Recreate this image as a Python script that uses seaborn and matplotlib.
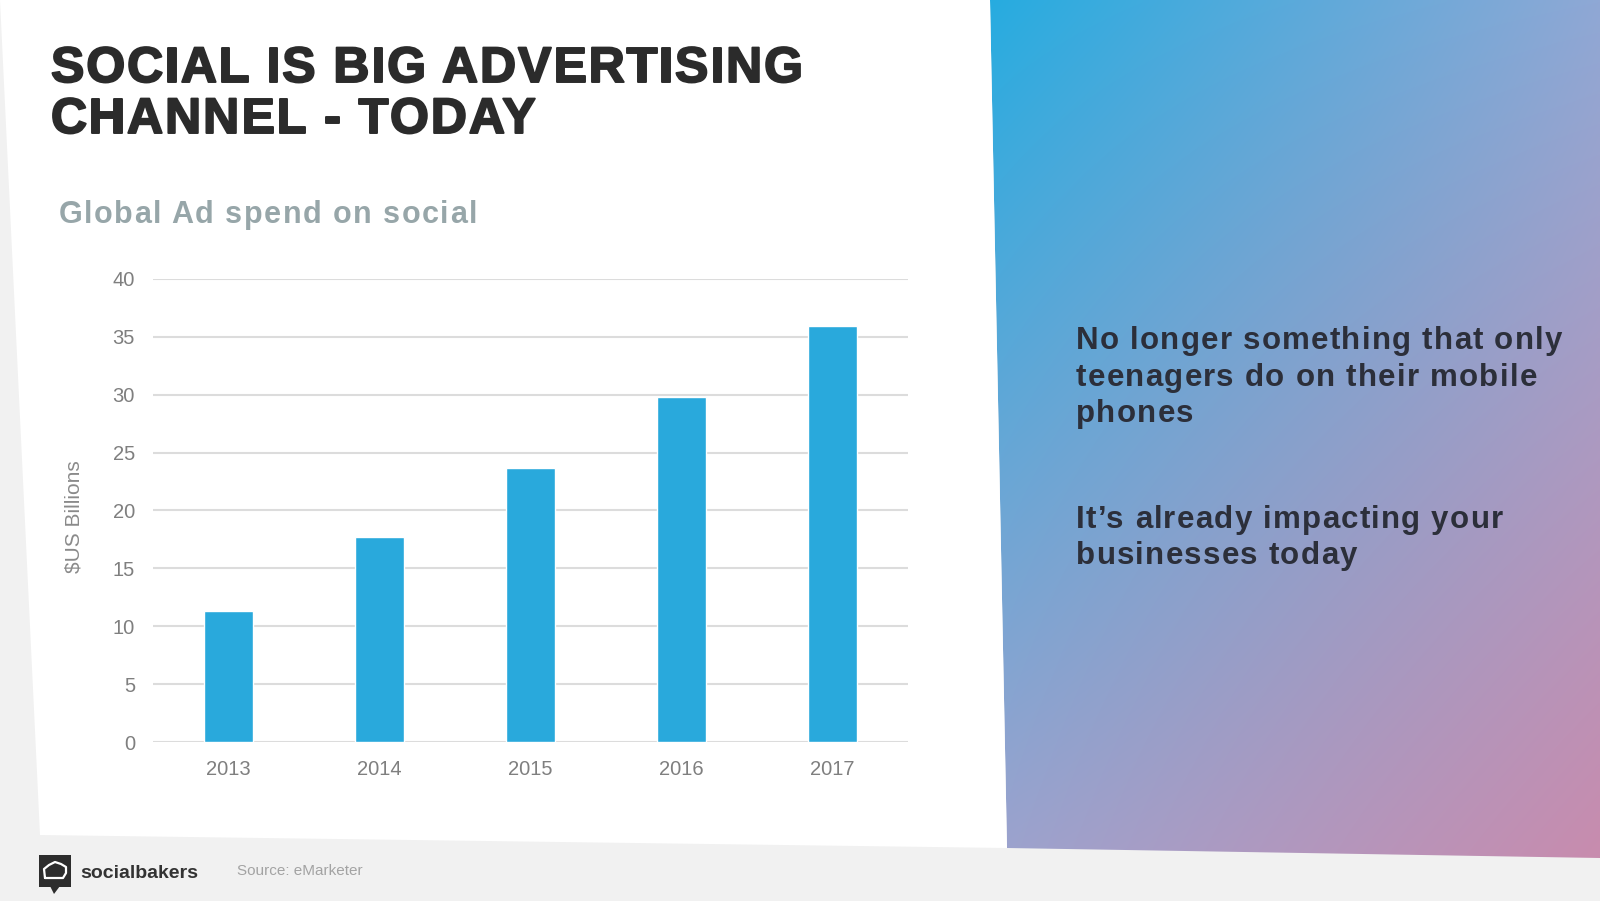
import numpy as np
import matplotlib
matplotlib.use("Agg")
import matplotlib.pyplot as plt
import matplotlib.patheffects as pe
from matplotlib.patches import Polygon, Rectangle
import seaborn as sns
import pandas as pd

# chart data (eMarketer, global social ad spend, $US billions)
YEARS = ["2013", "2014", "2015", "2016", "2017"]
SPEND = [11.3, 17.7, 23.7, 29.8, 35.9]
Y_TICKS = [0, 5, 10, 15, 20, 25, 30, 35, 40]

TITLE_LINES = ["SOCIAL IS BIG ADVERTISING", "CHANNEL - TODAY"]
SUBTITLE = "Global Ad spend on social"
YLABEL = "$US Billions"
SIDE_BLOCK_1 = ["No longer something that only", "teenagers do on their mobile", "phones"]
SIDE_BLOCK_2 = ["It\u2019s already impacting your", "businesses today"]

BAR_COLOR = "#29a9dc"
W, H = 1600, 901

sns.set_theme(style="white")
plt.rcParams['font.family'] = ['Liberation Sans', 'DejaVu Sans']

fig = plt.figure(figsize=(W / 100, H / 100), dpi=100)
fig.patch.set_facecolor("#f1f1f1")

# background canvas in pixel coordinates (origin top-left)
bg = fig.add_axes([0, 0, 1, 1], zorder=0)
bg.set_xlim(0, W)
bg.set_ylim(H, 0)
bg.axis("off")
renderer = fig.canvas.get_renderer()


def text_width(s, **kw):
    t = bg.text(0, 0, s, **kw)
    w = t.get_window_extent(renderer).width
    t.remove()
    return w


def tracking_for(s, target, **kw):
    # extra px between letters so the line reaches the target width
    return (target - text_width(s, **kw)) / (len(s) - 1)


def tracked_text(x, y, s, track, **kw):
    # letter-spaced text, one glyph at a time
    for i, ch in enumerate(s):
        if ch == " ":
            continue
        pos = text_width(s[:i + 1], **kw) - text_width(ch, **kw)
        bg.text(x + pos + i * track, y, ch, va="baseline", ha="left", **kw)


# slightly skewed white slide
bg.add_patch(Polygon([(0, 0), (990, 0), (1007, 848), (40, 835)],
                     closed=True, facecolor="white", edgecolor="none"))

# gradient side panel
grad_poly = Polygon([(990, 0), (1600, 0), (1600, 858), (1007, 848)],
                    closed=True, facecolor="none", edgecolor="none")
bg.add_patch(grad_poly)
corners = {
    "tl": np.array([0x27, 0xac, 0xe0]) / 255,
    "tr": np.array([0x8f, 0xa8, 0xd5]) / 255,
    "bl": np.array([0x9c, 0xa3, 0xce]) / 255,
    "br": np.array([0xc8, 0x8c, 0xae]) / 255,
}
u = np.linspace(0, 1, 200)[None, :, None]
v = np.linspace(0, 1, 200)[:, None, None]
img = ((1 - u) * (1 - v) * corners["tl"] + u * (1 - v) * corners["tr"]
       + (1 - u) * v * corners["bl"] + u * v * corners["br"])
im = bg.imshow(img, extent=(990, 1600, 858, 0), aspect="auto", interpolation="bilinear")
im.set_clip_path(grad_poly)
bg.set_xlim(0, W)
bg.set_ylim(H, 0)

# titles
title_kw = dict(fontsize=36, fontweight="bold", color="#2b2b2b",
                path_effects=[pe.withStroke(linewidth=1.4, foreground="#2b2b2b")])
tr = tracking_for(TITLE_LINES[0], 752, **title_kw)
for txt, base in zip(TITLE_LINES, [82, 133]):
    tracked_text(51, base, txt, tr, **title_kw)

sub_kw = dict(fontsize=22, fontweight="bold", color="#97a6a9")
tracked_text(59, 223, SUBTITLE, tracking_for(SUBTITLE, 418, **sub_kw), **sub_kw)

# side text
side_kw = dict(fontsize=22.5, fontweight="bold", color="#2c2f3a")
tr = tracking_for(SIDE_BLOCK_1[0], 486, **side_kw)
for txt, base in zip(SIDE_BLOCK_1, [349, 386, 422]):
    tracked_text(1076, base, txt, tr, **side_kw)
for txt, base in zip(SIDE_BLOCK_2, [528, 564]):
    tracked_text(1076, base, txt, tr, **side_kw)

# footer: logo + source
bg.add_patch(Rectangle((39, 855), 32, 32, facecolor="#2d2d2d", edgecolor="none"))
bg.add_patch(Polygon([(50, 886), (60, 886), (54, 894)], closed=True,
                     facecolor="#2d2d2d", edgecolor="none"))
hat = np.array([(45, 878), (44, 869), (49, 865), (55, 862), (61, 864),
                (66, 867), (66, 873), (63, 878), (45, 878)])
bg.plot(hat[:, 0], hat[:, 1], color="white", lw=1.6)
bg.text(80, 878, "socialbakers", fontsize=14, fontweight="bold", color="#333333",
        va="baseline", ha="left")
bg.text(237, 875, "Source: eMarketer", fontsize=11, color="#a3a3a3",
        va="baseline", ha="left")

# the chart
ax = fig.add_axes([153 / W, 1 - 742 / H, (908 - 153) / W, (742 - 279) / H], zorder=2)
ax.set_facecolor("none")
df = pd.DataFrame({"year": YEARS, "spend": SPEND})
sns.barplot(data=df, x="year", y="spend", color=BAR_COLOR, saturation=1,
            width=0.32, ax=ax, zorder=3)
ax.set_xlim(-0.5, len(YEARS) - 0.5)
ax.set_ylim(0, 40)
ax.set_yticks(Y_TICKS)
ax.yaxis.grid(True, color="#dcdcdc", lw=1.5)
ax.set_axisbelow(True)
for s in ax.spines.values():
    s.set_visible(False)
ax.tick_params(axis="both", length=0, labelsize=14.5, labelcolor="#7f7f7f")
ax.tick_params(axis="x", pad=13)
ax.tick_params(axis="y", pad=13)
ax.set_xlabel("")
ax.set_ylabel("")
bg.text(74, 517, YLABEL, rotation=90, fontsize=15, color="#8a8a8a",
        va="center", ha="center")

fig.savefig("out.png", dpi=100)
